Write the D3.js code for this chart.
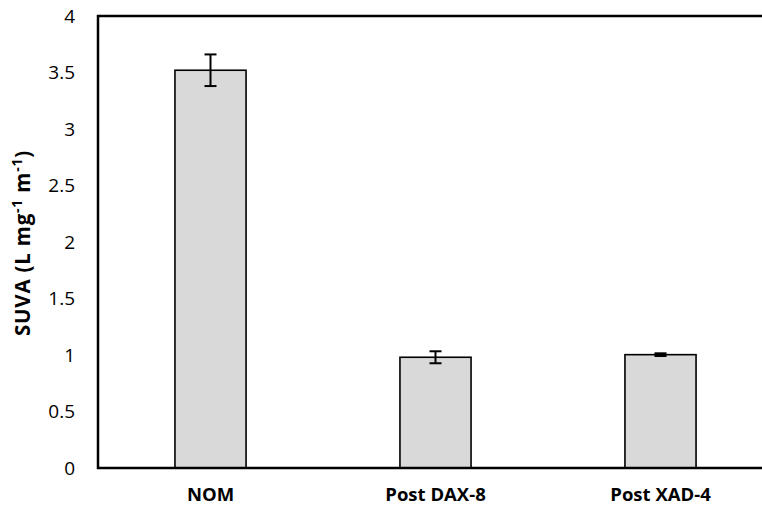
<!DOCTYPE html>
<html>
<head>
<meta charset="utf-8">
<script src="https://cdn.jsdelivr.net/npm/d3@7"></script>
<style>
  html, body { margin: 0; padding: 0; background: #fff; }
  svg { display: block; }
  text { font-family: "Open Sans", "Liberation Sans", sans-serif; fill: #000; }
</style>
</head>
<body>
<script>
// SUVA of the natural organic matter before and after resin fractionation
const categories = ["NOM", "Post DAX-8", "Post XAD-4"];
const suvaValues = [3.52, 0.98, 1.003];
const suvaErrors = [0.14, 0.053, 0.012];
const yTicks = [0, 0.5, 1, 1.5, 2, 2.5, 3, 3.5, 4];

const width = 762, height = 510;
const margin = { top: 16, left: 98, bottom: 42, right: -11 };
const innerW = width - margin.left - margin.right;
const innerH = height - margin.top - margin.bottom;

const svg = d3.select("body").append("svg")
  .attr("width", width).attr("height", height);

const g = svg.append("g").attr("transform", `translate(${margin.left},${margin.top})`);

const x = d3.scaleBand().domain(categories).range([0, innerW]).paddingInner(0.684).paddingOuter(0.342);
const y = d3.scaleLinear().domain([0, 4]).range([innerH, 0]);

// bars
g.selectAll("rect.bar").data(categories).join("rect")
  .attr("class", "bar")
  .attr("x", d => x(d))
  .attr("y", (d, i) => y(suvaValues[i]))
  .attr("width", x.bandwidth())
  .attr("height", (d, i) => innerH - y(suvaValues[i]))
  .attr("fill", "#d9d9d9")
  .attr("stroke", "#000")
  .attr("stroke-width", 1.6);

// error bars
const capHalf = 6;
const err = g.selectAll("g.err").data(categories).join("g").attr("class", "err")
  .attr("transform", d => `translate(${x(d) + x.bandwidth() / 2},0)`);
err.append("line")
  .attr("y1", (d, i) => y(suvaValues[i] + suvaErrors[i]))
  .attr("y2", (d, i) => y(suvaValues[i] - suvaErrors[i]))
  .attr("stroke", "#000").attr("stroke-width", 2);
[1, -1].forEach(s => {
  err.append("line")
    .attr("x1", -capHalf).attr("x2", capHalf)
    .attr("y1", (d, i) => y(suvaValues[i] + s * suvaErrors[i]))
    .attr("y2", (d, i) => y(suvaValues[i] + s * suvaErrors[i]))
    .attr("stroke", "#000").attr("stroke-width", 2);
});

// plot frame (top, left, bottom)
g.append("path")
  .attr("d", `M${innerW},0H0V${innerH}H${innerW}`)
  .attr("fill", "none").attr("stroke", "#000").attr("stroke-width", 2.5);

// y axis
const yAxis = g.append("g")
  .call(d3.axisLeft(y).tickValues(yTicks).tickSize(0).tickPadding(23).tickFormat(d3.format("")));
yAxis.select(".domain").remove();
yAxis.selectAll("text").style("font-size", "19px").style("font-family", "'Open Sans', sans-serif");

// x axis
const xAxis = g.append("g").attr("transform", `translate(0,${innerH})`)
  .call(d3.axisBottom(x).tickSize(0).tickPadding(20));
xAxis.select(".domain").remove();
xAxis.selectAll("text").style("font-size", "18.5px").style("font-weight", "bold")
  .style("font-family", "'Open Sans', sans-serif");

// y title with superscripts
const title = svg.append("text")
  .attr("transform", `translate(30,${margin.top + innerH / 2 + 1}) rotate(-90)`)
  .attr("text-anchor", "middle")
  .style("font-size", "20.5px").style("font-weight", "bold")
  .style("letter-spacing", "0.8px");
title.append("tspan").text("SUVA (L mg");
title.append("tspan").attr("dy", -8).style("font-size", "14px").text("-1");
title.append("tspan").attr("dy", 8).text(" m");
title.append("tspan").attr("dy", -8).style("font-size", "14px").text("-1");
title.append("tspan").attr("dy", 8).text(")");
</script>
</body>
</html>
